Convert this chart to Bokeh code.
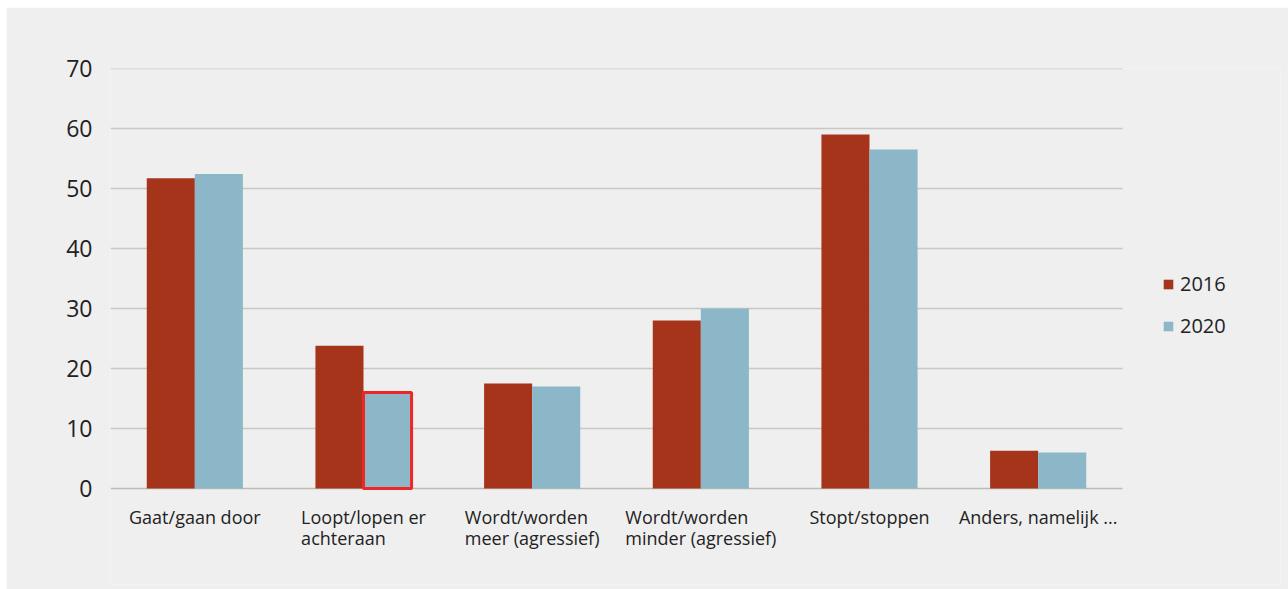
from bokeh.plotting import figure
from bokeh.models import (ColumnDataSource, Range1d, Legend, LegendItem, FixedTicker, Spacer)
from bokeh.layouts import column, row
from bokeh.transform import dodge
from bokeh.core.properties import value
from bokeh.embed import file_html
from bokeh.resources import INLINE

categories = ["Gaat/gaan door", "Loopt/lopen er\nachteraan", "Wordt/worden\nmeer (agressief)",
              "Wordt/worden\nminder (agressief)", "Stopt/stoppen", "Anders, namelijk ..."]
series_names = ["2016", "2020"]
values_2016 = [51.7, 23.8, 17.5, 28.0, 59.0, 6.3]
values_2020 = [52.4, 16.0, 17.0, 30.0, 56.5, 6.0]
y_ticks = [0, 10, 20, 30, 40, 50, 60, 70]
highlight_index = 1  # bar of 2020 outlined in red

color_2016 = "#A6341B"
color_2020 = "#8BB7C8"
bg = "#EFEFEF"
grid_color = "#C8C8C1"
base_color = "#BBBBB2"
text_color = "#222222"
font = "Open Sans"

ncat = len(categories)
xpos = [i + 0.5 for i in range(ncat)]

src = ColumnDataSource(dict(x=xpos, cat=categories, v2016=values_2016, v2020=values_2020,
                            y0=[0] * ncat))
hl = ColumnDataSource(dict(x=[xpos[highlight_index]], v=[values_2020[highlight_index]]))
grid_src = ColumnDataSource(dict(y=[t for t in y_ticks if t != 0],
                                 x0=[0] * (len(y_ticks) - 1), x1=[ncat] * (len(y_ticks) - 1)))

frame_w = 1170
plot_w = 1012
p = figure(x_range=Range1d(0, ncat * frame_w / plot_w), y_range=Range1d(-16, 70),
           width=1282, height=582, output_backend="svg", toolbar_location=None,
           min_border_left=104, min_border_right=8, min_border_top=61, min_border_bottom=5,
           background_fill_color=bg, border_fill_color=bg, outline_line_color=None)

# grid lines and baseline
p.segment(x0="x0", x1="x1", y0="y", y1="y", source=grid_src, line_color=grid_color, line_width=1.5)
p.segment(x0=0, x1=ncat, y0=0, y1=0, line_color=base_color, line_width=1.5)

bw = 0.285
r1 = p.vbar(x=dodge("x", -bw / 2), top="v2016", width=bw, source=src,
            fill_color=color_2016, line_color=None)
r2 = p.vbar(x=dodge("x", bw / 2), top="v2020", width=bw, source=src,
            fill_color=color_2020, line_color=None)
p.vbar(x=dodge("x", bw / 2), top="v", width=bw, source=hl,
       fill_color=None, line_color="#EE2626", line_width=3)

# category labels
p.text(x="x", y="y0", text="cat", source=src, y_offset=16,
       anchor="top_center", text_align="left", text_baseline="top",
       text_font=value(font), text_font_size="18px", text_line_height=0.88,
       text_color=text_color)

p.xgrid.grid_line_color = None
p.ygrid.grid_line_color = None
p.xaxis.visible = False

p.yaxis.ticker = FixedTicker(ticks=y_ticks)
p.yaxis.axis_line_color = None
p.yaxis.major_tick_line_color = None
p.yaxis.minor_tick_line_color = None
p.yaxis.major_tick_out = 0
p.yaxis.major_tick_in = 0
p.yaxis.major_label_standoff = 18
p.yaxis.major_label_text_font = font
p.yaxis.major_label_text_font_size = "23px"
p.yaxis.major_label_text_color = text_color

legend = Legend(items=[LegendItem(label=series_names[0], renderers=[r1]),
                       LegendItem(label=series_names[1], renderers=[r2])],
                location=(1052, 245), orientation="vertical",
                background_fill_alpha=0, border_line_color=None,
                padding=0, margin=0, spacing=15,
                glyph_width=12, glyph_height=12, label_height=22, label_standoff=6,
                label_text_font=font, label_text_font_size="20px", label_text_color=text_color)
p.add_layout(legend, "center")

layout = column(Spacer(height=7), row(Spacer(width=6), p))
open("out.html", "w").write(file_html(layout, INLINE))
